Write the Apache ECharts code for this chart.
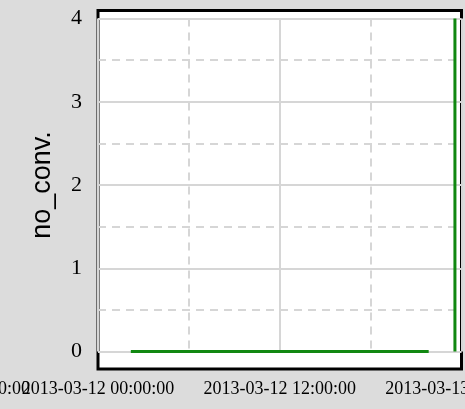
<!DOCTYPE html>
<html>
<head>
<meta charset="utf-8">
<script src="https://cdn.jsdelivr.net/npm/echarts@6/dist/echarts.min.js"></script>
<style>
html,body{margin:0;padding:0;background:#dcdcdc;}
#c{width:465px;height:409px;}
</style>
</head>
<body>
<div id="c"></div>
<script>
// Data
var xStart = '2013-03-12 00:00:00';
var xEnd = '2013-03-13 00:00:00';
var times = ['2013-03-12 02:10:00', '2013-03-12 21:50:00', '2013-03-12 22:40:00', '2013-03-12 23:34:00', '2013-03-12 23:34:00'];
var values = [0, 0, '-', 0, 4];
var yTicks = [0, 1, 2, 3, 4];
var yName = 'no_conv.';

function ts(s) {
  var p = s.split(/[- :]/).map(Number);
  return new Date(p[0], p[1] - 1, p[2], p[3], p[4], p[5]).getTime();
}
var seriesData = times.map(function (t, i) { return [ts(t), values[i]]; });

var chart = echarts.init(document.getElementById('c'), null, {renderer: 'canvas'});
var gridColor = '#d6d6d6';
chart.setOption({
  backgroundColor: '#dcdcdc',
  animation: false,
  grid: [
    {show: true, left: 98, right: 3.5, top: 10.5, bottom: 40, backgroundColor: '#ffffff', borderColor: '#000000', borderWidth: 3, outerBoundsMode: 'none', containLabel: false},
    {left: 98, right: 3.5, top: 18.5, bottom: 57.4, outerBoundsMode: 'none', containLabel: false}
  ],
  xAxis: [
    {gridIndex: 0, type: 'value', show: false},
    {
      gridIndex: 1, type: 'value',
      min: ts(xStart), max: ts(xEnd), interval: 12 * 3600 * 1000,
      axisLine: {show: false}, axisTick: {show: false},
      axisLabel: {
        show: true, showMinLabel: true, showMaxLabel: true, hideOverlap: false, interval: 0,
        margin: 29, color: '#000', fontFamily: 'Liberation Serif', fontSize: 18,
        formatter: function (v) { return echarts.time.format(v, '{yyyy}-{MM}-{dd} {HH}:{mm}:{ss}', false); }
      },
      splitLine: {show: true, lineStyle: {color: gridColor, width: 2, type: 'solid'}},
      minorTick: {show: false, splitNumber: 2},
      minorSplitLine: {show: true, lineStyle: {color: gridColor, width: 2, type: [8, 6]}}
    }
  ],
  yAxis: [
    {gridIndex: 0, type: 'value', show: false},
    {
      gridIndex: 1, type: 'value', min: yTicks[0], max: yTicks[yTicks.length - 1], interval: 1,
      name: yName, nameLocation: 'middle', nameGap: 42,
      nameTextStyle: {fontFamily: 'Liberation Sans', fontSize: 27, color: '#000'},
      axisLine: {show: false}, axisTick: {show: false},
      axisLabel: {margin: 16, color: '#000', fontFamily: 'Liberation Serif', fontSize: 22},
      splitLine: {show: true, lineStyle: {color: gridColor, width: 2, type: 'solid'}},
      minorTick: {show: false, splitNumber: 2},
      minorSplitLine: {show: true, lineStyle: {color: gridColor, width: 2, type: [8, 6]}}
    }
  ],
  graphic: [
    {type: 'text', x: 30, y: 380.5, style: {text: '2013-03-11 12:00:00', font: '18px "Liberation Serif"', fill: '#000', align: 'right', verticalAlign: 'top'}}
  ],
  series: [
    {
      type: 'line', xAxisIndex: 1, yAxisIndex: 1, data: seriesData,
      showSymbol: false, connectNulls: false,
      lineStyle: {color: '#118811', width: 3}, itemStyle: {color: '#118811'}
    }
  ]
});
</script>
</body>
</html>
